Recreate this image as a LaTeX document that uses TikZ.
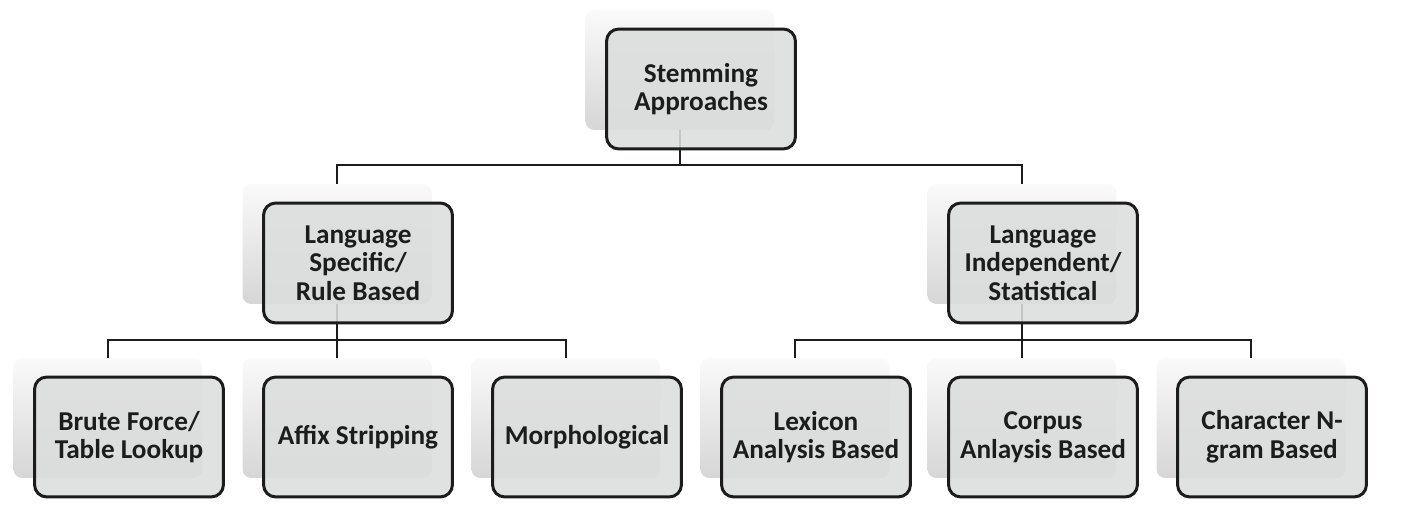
\documentclass[tikz,border=0pt]{standalone}
\usepackage{fontspec}
\setmainfont{Carlito}
\usepackage{tikz}
\usetikzlibrary{calc}
\definecolor{ink}{HTML}{1C1C1C}
\definecolor{boxfill}{HTML}{DCDDDD}
\definecolor{backtop}{HTML}{FAFAFA}
\definecolor{backbot}{HTML}{D6D6D6}
\tikzset{backbox/.style={rounded corners=5pt,top color=backtop,bottom color=backbot,draw=none,minimum width=3.78cm,minimum height=2.4cm,inner sep=0pt,outer sep=0pt},frontbox/.style={draw=ink,line width=1.7pt,rounded corners=7pt,fill=boxfill,fill opacity=.88,text opacity=1,text=ink,minimum width=3.78cm,minimum height=2.4cm,inner sep=0pt,align=center,font=\fontsize{15.5}{16.3}\selectfont\bfseries},conn/.style={draw=ink,line width=1.5pt}}
\begin{document}
\begin{tikzpicture}[x=0.02cm,y=-0.02cm]
\useasboundingbox (0,0) rectangle (1401,523);
\foreach \nm/\x/\y in {root/680/70,rule/337/244,stat/1022/244,brute/108/418,affix/337/418,morph/566/418,lexicon/795/418,corpus/1022/418,ngram/1251/418}{
\node[backbox] (\nm) at (\x,\y) {};}
\draw[conn] (root.south) -- ++(0,35) -| (rule.north);
\draw[conn] (root.south) -- ++(0,35) -| (stat.north);
\foreach \c in {brute,affix,morph}{\draw[conn] (rule.south) -- ++(0,36) -| (\c.north);}
\foreach \c in {lexicon,corpus,ngram}{\draw[conn] (stat.south) -- ++(0,36) -| (\c.north);}
\foreach \nm/\txt in {root/{Stemming\\Approaches},rule/{Language\\Specific/\\Rule Based},stat/{Language\\Independent/\\Statistical},brute/{Brute Force/\\Table Lookup},affix/{Affix Stripping},morph/{Morphological},lexicon/{Lexicon\\Analysis Based},corpus/{Corpus\\Anlaysis Based},ngram/{Character N-\\gram Based}}{
\node[frontbox] (\nm-f) at ($(\nm)+(21,19)$) {\txt};}
\end{tikzpicture}
\end{document}
